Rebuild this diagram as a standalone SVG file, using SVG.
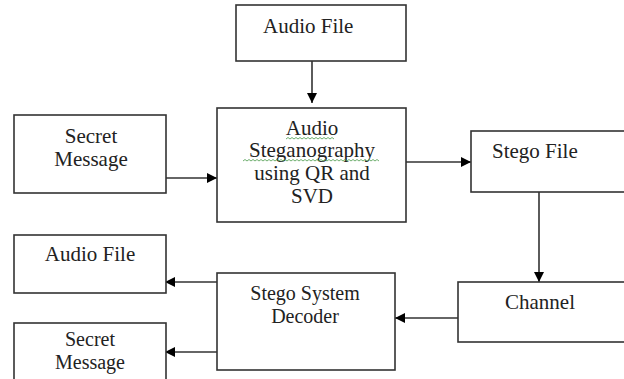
<svg xmlns="http://www.w3.org/2000/svg" width="624" height="379" viewBox="0 0 624 379">
<style>
.box{fill:#fff;stroke:#333;stroke-width:1.6}
.t{font-family:"Liberation Serif","Times New Roman",serif;font-size:21px;fill:#222;text-anchor:middle}
.s{font-size:20px}
.tl{font-family:"Liberation Serif","Times New Roman",serif;font-size:21px;fill:#222}
.c{stroke:#333;stroke-width:1.6;fill:none;marker-end:url(#ah)}
.sq{stroke:#4a9a4a;stroke-width:0.8;fill:none}
</style>
<defs>
<marker id="ah" viewBox="0 0 10 10" refX="10" refY="5" markerWidth="11" markerHeight="10" markerUnits="userSpaceOnUse" orient="auto">
<path d="M0,0 L10,5 L0,10 z" fill="#000"/>
</marker>
</defs>
<rect width="624" height="379" fill="#fff"/>
<g id="connectors">
<path class="c" d="M312,61 V103"/>
<path class="c" d="M166,178 H217"/>
<path class="c" d="M406,162 H471"/>
<path class="c" d="M539,192 V282"/>
<path class="c" d="M458,318 H395"/>
<path class="c" d="M217,282 H165"/>
<path class="c" d="M217,352 H165"/>
</g>
<g id="audio-file-top">
<rect class="box" x="236" y="5" width="170" height="56"/>
<text class="tl" x="263" y="33">Audio File</text>
</g>
<g id="secret-message-top">
<rect class="box" x="14" y="115" width="152" height="78"/>
<text class="t" x="91" y="143">Secret</text>
<text class="t" x="91" y="166">Message</text>
</g>
<g id="audio-steganography">
<rect class="box" x="217" y="108" width="189" height="114"/>
<text class="t" x="312" y="135">Audio</text>
<text class="t" x="312" y="157">Steganography</text>
<text class="t" x="312" y="180">using QR  and</text>
<text class="t" x="312" y="203">SVD</text>
<path class="sq" d="M286,139 l2,-1.5 l2,1.5 l2,-1.5 l2,1.5 l2,-1.5 l2,1.5 l2,-1.5 l2,1.5 l2,-1.5 l2,1.5 l2,-1.5 l2,1.5 l2,-1.5 l2,1.5 l2,-1.5 l2,1.5 l2,-1.5 l2,1.5 l2,-1.5 l2,1.5 l2,-1.5 l2,1.5 l2,-1.5 l2,1.5"/>
<path class="sq" d="M243,161 l2,-1.5 l2,1.5 l2,-1.5 l2,1.5 l2,-1.5 l2,1.5 l2,-1.5 l2,1.5 l2,-1.5 l2,1.5 l2,-1.5 l2,1.5 l2,-1.5 l2,1.5 l2,-1.5 l2,1.5 l2,-1.5 l2,1.5 l2,-1.5 l2,1.5 l2,-1.5 l2,1.5 l2,-1.5 l2,1.5 l2,-1.5 l2,1.5 l2,-1.5 l2,1.5 l2,-1.5 l2,1.5 l2,-1.5 l2,1.5 l2,-1.5 l2,1.5 l2,-1.5 l2,1.5 l2,-1.5 l2,1.5 l2,-1.5 l2,1.5 l2,-1.5 l2,1.5 l2,-1.5 l2,1.5 l2,-1.5 l2,1.5 l2,-1.5 l2,1.5 l2,-1.5 l2,1.5 l2,-1.5 l2,1.5 l2,-1.5 l2,1.5 l2,-1.5 l2,1.5 l2,-1.5 l2,1.5 l2,-1.5 l2,1.5 l2,-1.5 l2,1.5 l2,-1.5 l2,1.5 l2,-1.5 l2,1.5 l2,-1.5 l2,1.5"/>
</g>
<g id="stego-file">
<rect class="box" x="471" y="131" width="170" height="61"/>
<text class="tl" x="492" y="158">Stego File</text>
</g>
<g id="channel">
<rect class="box" x="458" y="282" width="180" height="60"/>
<text class="t" x="540" y="309">Channel</text>
</g>
<g id="stego-system-decoder">
<rect class="box" x="217" y="273" width="178" height="97"/>
<text class="t s" x="305" y="300">Stego System</text>
<text class="t s" x="305" y="323">Decoder</text>
</g>
<g id="audio-file-out">
<rect class="box" x="14" y="235" width="152" height="58"/>
<text class="t" x="90" y="261">Audio File</text>
</g>
<g id="secret-message-out">
<rect class="box" x="14" y="323" width="152" height="70"/>
<text class="t s" x="90" y="346">Secret</text>
<text class="t s" x="90" y="369">Message</text>
</g>
</svg>
